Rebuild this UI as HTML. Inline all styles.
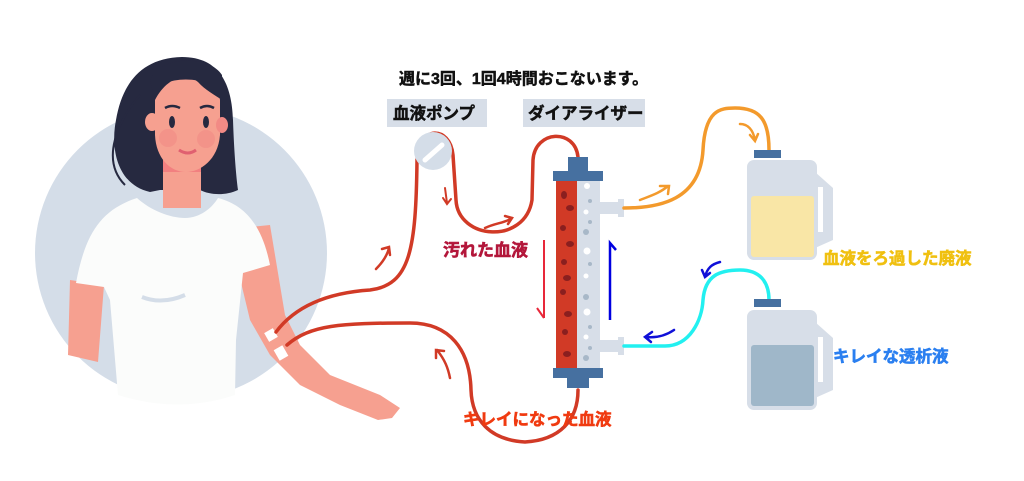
<!DOCTYPE html><html><head><meta charset="utf-8"><style>
body{margin:0;width:1024px;height:476px;background:#fff;overflow:hidden;font-family:"Liberation Sans","Noto Sans CJK JP",sans-serif}
</style></head><body>
<svg width="1024" height="476" viewBox="0 0 1024 476" xmlns="http://www.w3.org/2000/svg" font-family="Liberation Sans, Noto Sans CJK JP, sans-serif" font-weight="bold">
<circle cx="181" cy="253" r="146" fill="#d4dde8"/>
<!-- hair back -->
<path d="M150 192 C118 185 110 150 116 120 C122 85 140 58 182 57 C220 57 232 85 233 120 C234 150 236 175 238 190 C225 196 210 195 200 190 L160 190Z" fill="#262940"/>
<path d="M140 95 C118 120 100 160 125 185" stroke="#262940" stroke-width="2" fill="none"/>
<!-- neck -->
<rect x="163" y="160" width="38" height="48" fill="#f6a090"/>
<rect x="163" y="160" width="38" height="12" fill="#f28080"/>
<!-- face -->
<path d="M155 95 C155 75 218 72 220 100 L220 135 C218 160 200 172 186 172 C170 172 156 158 155 135Z" fill="#f6a090"/>
<ellipse cx="152" cy="122" rx="7" ry="9" fill="#f6a090"/><ellipse cx="222" cy="125" rx="6" ry="8" fill="#f28a85"/>
<path d="M155 100 C165 80 185 70 198 82 C205 90 215 95 222 100 L222 75 C210 55 160 55 150 80Z" fill="#262940"/>
<ellipse cx="172" cy="122" rx="3" ry="6" fill="#262940"/><ellipse cx="206" cy="122" rx="3" ry="6" fill="#262940"/>
<path d="M165 108 Q172 104 180 108 M200 108 Q207 104 214 108" stroke="#262940" stroke-width="2.5" fill="none"/>
<circle cx="168" cy="138" r="9" fill="#f28a85" opacity=".6"/><circle cx="206" cy="139" r="9" fill="#f28a85" opacity=".6"/>
<path d="M179 150 Q188 156 196 150" stroke="#e06070" stroke-width="3" fill="none"/>
<!-- arms -->
<path d="M70 280 L68 355 L98 362 L104 285Z" fill="#f6a090"/>
<path d="M240 228 L270 225 L285 315 L300 345 L330 375 L380 395 L400 408 L392 418 L378 420 L340 405 L300 385 L270 355 L250 320 L238 270Z" fill="#f6a090"/>
<!-- shirt -->
<path d="M137 198 C150 210 170 218 185 218 C200 218 212 208 218 198 C245 205 262 225 270 265 L243 273 L236 340 L235 395 C190 410 150 405 118 395 L110 300 L104 287 L76 283 C85 235 100 210 137 198Z" fill="#fbfcfb"/>
<path d="M142 297 Q162 305 185 295" stroke="#d4dde8" stroke-width="4" fill="none"/>
<!-- tape -->
<rect x="266" y="330" width="10" height="10" fill="#fff" transform="rotate(-30 271 335)"/>
<rect x="276" y="347" width="10" height="12" fill="#fff" transform="rotate(-30 281 353)"/>
<!-- tubes -->
<g fill="none" stroke="#d13a26" stroke-width="3.5" stroke-linecap="round">
<path d="M276 332 C300 300 340 292 370 290 C410 285 416 250 417 160 C418 125 450 125 453 155 L456 200 C458 240 525 245 532 200 L533 160 C535 130 575 128 578 157"/>
<path d="M287 345 C310 325 340 323 410 323 C450 323 470 350 471 390 C472 420 490 440 525 442 C560 440 578 420 578 390"/>
<path d="M376 269 C383 262 387 256 389 248 M382 249 L389 247 L390 255" stroke-width="2.5"/>
<path d="M450 378 C448 368 445 360 437 350 M436 358 L436 350 L444 351" stroke-width="2.5"/>
<path d="M445 188 L447 203 M443 198 L447 204 L451 199" stroke-width="2"/>
<path d="M485 228 C495 223 505 223 512 218 M505 216 L512 218 L508 224" stroke-width="2.5"/>
</g>
<circle cx="433" cy="151" r="19" fill="#d4dde8"/>
<path d="M425 160 L442 145" stroke="#fff" stroke-width="5" stroke-linecap="round"/>
<!-- dialyzer -->
<rect x="568" y="157" width="20" height="14" fill="#4670a0"/>
<rect x="553" y="171" width="50" height="10" fill="#4670a0"/>
<rect x="556" y="181" width="21" height="187" fill="#d13a26"/>
<rect x="577" y="181" width="23" height="187" fill="#d7dee8"/>
<rect x="600" y="202" width="20" height="12" fill="#d7dee8"/><rect x="618" y="199" width="6" height="18" fill="#d7dee8"/>
<rect x="600" y="340" width="20" height="12" fill="#d7dee8"/><rect x="618" y="337" width="6" height="18" fill="#d7dee8"/>
<rect x="553" y="368" width="50" height="10" fill="#4670a0"/>
<rect x="567" y="378" width="22" height="10" fill="#4670a0"/>
<g fill="#8a1f1f"><ellipse cx="564" cy="195" rx="3" ry="4"/><ellipse cx="570" cy="208" rx="4" ry="3"/><ellipse cx="563" cy="228" rx="3" ry="3"/><ellipse cx="570" cy="244" rx="4" ry="3"/><ellipse cx="564" cy="262" rx="3" ry="3"/><ellipse cx="567" cy="278" rx="4" ry="3"/><ellipse cx="563" cy="292" rx="3" ry="3"/><ellipse cx="568" cy="314" rx="4" ry="3"/><ellipse cx="565" cy="332" rx="3" ry="3"/><ellipse cx="567" cy="354" rx="4" ry="3"/></g>
<g fill="#fff"><circle cx="587" cy="186" r="3"/><circle cx="586" cy="212" r="2.5"/><circle cx="587" cy="251" r="3.5"/><circle cx="586" cy="276" r="2.5"/><circle cx="587" cy="312" r="3.5"/><circle cx="586" cy="337" r="2.5"/></g>
<g fill="#a8b8c8"><circle cx="590" cy="201" r="2"/><circle cx="590" cy="222" r="2"/><circle cx="586" cy="232" r="3"/><circle cx="590" cy="264" r="2"/><circle cx="586" cy="297" r="3"/><circle cx="590" cy="327" r="2"/><circle cx="590" cy="348" r="2"/><circle cx="586" cy="358" r="3"/></g>
<path d="M544 240 L544 318 M537 308 L544 318" stroke="#e8283a" stroke-width="2" fill="none"/>
<path d="M610 320 L610 243 L616 250" stroke="#0000e0" stroke-width="2.5" fill="none"/>
<!-- orange / cyan tubes -->
<g fill="none" stroke-width="3.5" stroke-linecap="round">
<path d="M624 208 C660 208 700 200 703 150 C705 110 720 108 735 108 C760 108 769 120 769 150" stroke="#f39a2c"/>
<path d="M640 200 C650 196 660 193 668 186 M660 186 L669 186 L668 194" stroke="#f39a2c" stroke-width="2.5"/>
<path d="M740 124 C748 124 753 130 755 140 M750 135 L755 141 L758 134" stroke="#f39a2c" stroke-width="2.5"/>
<path d="M624 346 L665 346 C690 346 702 320 703 300 C705 275 720 270 740 270 C760 270 769 282 769 300" stroke="#22f0f0"/>
<path d="M674 330 C665 336 655 338 646 337 M652 332 L645 337 L651 342" stroke="#1010d8" stroke-width="2.5"/>
<path d="M720 262 C712 264 707 268 705 277 M702 270 L705 277 L710 273" stroke="#1010d8" stroke-width="2.5"/>
</g>
<!-- jugs -->
<rect x="754" y="150" width="27" height="8" fill="#4670a0"/>
<rect x="747" y="160" width="70" height="100" rx="7" fill="#d7dee8"/>
<path d="M815 172 L833 188 L833 240 L815 248Z" fill="#d7dee8"/><rect x="818" y="187" width="5" height="45" fill="#fff"/>
<rect x="751" y="196" width="63" height="61" rx="3" fill="#f9e6a6"/>
<rect x="754" y="299" width="27" height="8" fill="#4670a0"/>
<rect x="747" y="310" width="70" height="100" rx="7" fill="#d7dee8"/>
<path d="M815 322 L833 338 L833 390 L815 398Z" fill="#d7dee8"/><rect x="818" y="337" width="5" height="45" fill="#fff"/>
<rect x="751" y="345" width="63" height="61" rx="3" fill="#9fb7c9"/>
<!-- labels -->
<text x="399" y="84" font-size="16" fill="#111" stroke="#111" stroke-width="0.5">週に3回、1回4時間おこないます。</text>
<rect x="387" y="99" width="100" height="28" fill="#d7dee8"/>
<text x="393" y="119" font-size="16.5" fill="#111" stroke="#111" stroke-width="0.5">血液ポンプ</text>
<rect x="523" y="99" width="122" height="28" fill="#d7dee8"/>
<text x="528" y="119" font-size="16.5" fill="#111" stroke="#111" stroke-width="0.5">ダイアライザー</text>
<text x="443" y="256" font-size="17" fill="#b3163a" stroke="#b3163a" stroke-width="0.6">汚れた血液</text>
<text x="463" y="425" font-size="16.5" fill="#f03a10" stroke="#f03a10" stroke-width="0.6">キレイになった血液</text>
<text x="823" y="264" font-size="16.5" fill="#f0c010" stroke="#f0c010" stroke-width="0.6">血液をろ過した廃液</text>
<text x="833" y="362" font-size="16.5" fill="#2a7ff0" stroke="#2a7ff0" stroke-width="0.6">キレイな透析液</text>
</svg>
</body></html>
